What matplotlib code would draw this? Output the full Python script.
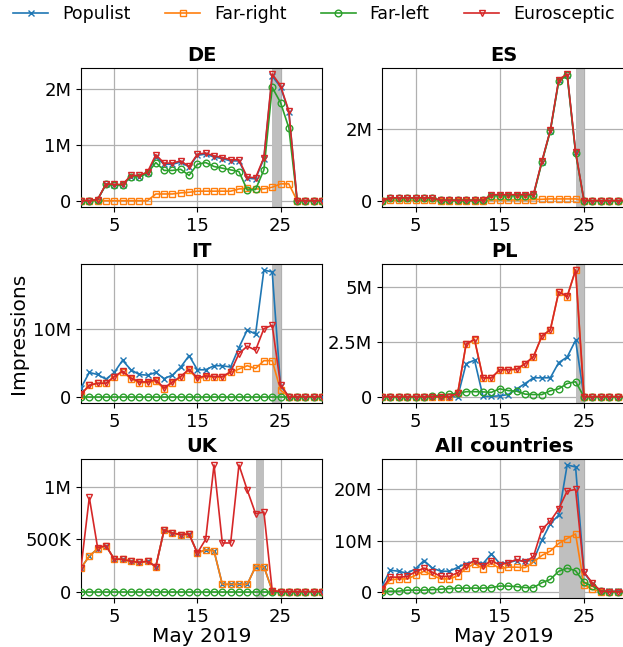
import matplotlib
matplotlib.use("Agg")
import matplotlib.pyplot as plt
from matplotlib.ticker import FuncFormatter

days = list(range(1, 31))
series_names = ["Populist", "Far-right", "Far-left", "Eurosceptic"]
colors = ["#1f77b4", "#ff7f0e", "#2ca02c", "#d62728"]
markers = ["x", "s", "o", "v"]

# values in millions of impressions, May 1..30, 2019
pop_de = [0, 0, 0.02, 0.29, 0.28, 0.28, 0.43, 0.43, 0.49, 0.78, 0.65, 0.65, 0.69, 0.60, 0.81, 0.83, 0.78, 0.75, 0.71, 0.71, 0.40, 0.39, 0.75, 2.22, 2.03, 1.58, 0, 0, 0, 0]
fr_de = [0, 0, 0, 0, 0, 0, 0, 0, 0, 0.12, 0.12, 0.12, 0.14, 0.15, 0.17, 0.17, 0.17, 0.17, 0.17, 0.21, 0.22, 0.21, 0.21, 0.24, 0.30, 0.30, 0, 0, 0, 0]
fl_de = [0, 0, 0.02, 0.29, 0.28, 0.28, 0.43, 0.43, 0.49, 0.68, 0.54, 0.54, 0.56, 0.45, 0.65, 0.68, 0.61, 0.58, 0.55, 0.52, 0.19, 0.20, 0.55, 2.02, 1.75, 1.30, 0, 0, 0, 0]
eu_de = [0, 0, 0.02, 0.30, 0.29, 0.29, 0.45, 0.45, 0.51, 0.82, 0.67, 0.67, 0.71, 0.61, 0.83, 0.85, 0.80, 0.77, 0.73, 0.73, 0.42, 0.41, 0.77, 2.26, 2.05, 1.60, 0, 0, 0, 0]

pop_es = [0, 0.07, 0.07, 0.07, 0.07, 0.07, 0.07, 0.01, 0.01, 0.01, 0.01, 0.01, 0.01, 0.15, 0.15, 0.15, 0.15, 0.15, 0.16, 1.10, 1.97, 3.38, 3.54, 1.36, 0, 0, 0, 0, 0, 0]
fr_es = [0, 0.01, 0.01, 0.01, 0.01, 0.01, 0.01, 0, 0, 0, 0, 0, 0, 0.02, 0.02, 0.02, 0.02, 0.02, 0.03, 0.04, 0.05, 0.05, 0.05, 0.05, 0, 0, 0, 0, 0, 0]
fl_es = [0, 0.07, 0.07, 0.07, 0.07, 0.07, 0.07, 0.01, 0.01, 0.01, 0.01, 0.01, 0.01, 0.14, 0.14, 0.14, 0.14, 0.14, 0.15, 1.08, 1.96, 3.36, 3.52, 1.34, 0, 0, 0, 0, 0, 0]
eu_es = [0, 0.08, 0.08, 0.08, 0.08, 0.08, 0.08, 0.01, 0.01, 0.01, 0.01, 0.01, 0.01, 0.17, 0.17, 0.17, 0.17, 0.17, 0.18, 1.11, 1.98, 3.40, 3.56, 1.38, 0, 0, 0, 0, 0, 0]

pop_it = [1.3, 3.6, 3.3, 2.6, 3.6, 5.4, 4.0, 3.3, 3.2, 3.6, 2.7, 3.2, 4.4, 6.1, 4.0, 4.0, 4.6, 4.6, 4.4, 7.3, 9.9, 9.3, 18.8, 18.5, 1.6, 0, 0, 0, 0, 0]
fr_it = [0.3, 1.7, 2.0, 2.0, 2.9, 3.7, 2.7, 2.1, 2.1, 2.3, 1.2, 2.1, 2.9, 4.0, 2.6, 3.0, 2.9, 2.9, 3.6, 4.1, 4.6, 4.2, 5.35, 5.35, 1.0, 0, 0, 0, 0, 0]
fl_it = [0] * 30
eu_it = [0.4, 1.7, 2.0, 2.0, 3.0, 3.8, 2.8, 2.2, 2.2, 2.5, 1.3, 2.2, 3.0, 4.1, 2.8, 3.1, 3.0, 3.0, 3.7, 6.4, 7.5, 6.9, 10.1, 10.6, 1.8, 0, 0, 0, 0, 0]

pop_pl = [0, 0, 0, 0, 0, 0, 0, 0, 0, 0, 1.5, 1.66, 0.02, 0.02, 0.04, 0.10, 0.35, 0.60, 0.86, 0.86, 0.86, 1.55, 1.80, 2.56, 0, 0, 0, 0, 0, 0]
fr_pl = [0, 0, 0, 0, 0, 0, 0, 0, 0, 0.15, 2.38, 2.58, 0.85, 0.85, 1.22, 1.22, 1.24, 1.49, 1.81, 2.75, 3.03, 4.75, 4.54, 5.74, 0, 0, 0, 0, 0, 0]
fl_pl = [0, 0, 0, 0, 0, 0, 0.03, 0.06, 0.12, 0.15, 0.23, 0.23, 0.22, 0.20, 0.36, 0.28, 0.25, 0.12, 0.10, 0.10, 0.27, 0.36, 0.60, 0.68, 0, 0, 0, 0, 0, 0]
eu_pl = [0, 0, 0, 0, 0, 0, 0, 0, 0, 0.15, 2.40, 2.60, 0.86, 0.86, 1.23, 1.23, 1.25, 1.50, 1.82, 2.76, 3.04, 4.76, 4.55, 5.75, 0, 0, 0, 0, 0, 0]

pop_uk = [0.226, 0.34, 0.41, 0.44, 0.31, 0.31, 0.29, 0.28, 0.29, 0.24, 0.59, 0.56, 0.545, 0.55, 0.37, 0.40, 0.39, 0.07, 0.07, 0.07, 0.07, 0.24, 0.24, 0.01, 0, 0, 0, 0, 0, 0]
fr_uk = [0.226, 0.34, 0.41, 0.44, 0.31, 0.31, 0.29, 0.28, 0.29, 0.24, 0.59, 0.56, 0.545, 0.55, 0.37, 0.40, 0.39, 0.07, 0.07, 0.07, 0.07, 0.24, 0.24, 0.01, 0, 0, 0, 0, 0, 0]
fl_uk = [0] * 30
eu_uk = [0.226, 0.90, 0.42, 0.44, 0.31, 0.31, 0.29, 0.28, 0.29, 0.24, 0.59, 0.56, 0.545, 0.55, 0.37, 0.50, 1.21, 0.465, 0.465, 1.21, 0.97, 0.745, 0.76, 0.01, 0, 0, 0, 0, 0, 0]

pop_all = [1.1, 4.2, 4.0, 3.6, 4.5, 6.1, 4.6, 4.0, 4.0, 4.75, 5.5, 5.9, 5.5, 7.4, 5.5, 5.7, 6.1, 6.0, 6.1, 10.1, 13.3, 15.0, 24.8, 24.4, 3.7, 1.5, 0.1, 0.1, 0.1, 0.1]
fr_all = [0.4, 2.3, 2.5, 2.5, 3.2, 4.0, 3.2, 2.5, 2.5, 3.1, 4.6, 5.5, 4.5, 5.6, 4.5, 4.8, 4.8, 4.7, 5.8, 7.1, 7.95, 9.45, 10.4, 11.3, 1.3, 0.45, 0, 0, 0, 0]
fl_all = [0, 0.1, 0.1, 0.3, 0.3, 0.3, 0.4, 0.5, 0.6, 0.7, 0.7, 0.7, 0.7, 0.8, 1.1, 1.1, 1.0, 0.8, 0.8, 1.76, 2.4, 4.0, 4.6, 4.1, 1.8, 1.1, 0.1, 0, 0, 0]
eu_all = [0.5, 2.9, 2.8, 3.0, 3.9, 4.6, 3.8, 3.0, 3.0, 3.7, 5.1, 6.1, 5.0, 6.1, 5.2, 5.7, 6.3, 5.8, 6.9, 12.2, 13.8, 16.2, 19.7, 20.0, 3.8, 1.7, 0.1, 0, 0, 0]

titles = ["DE", "ES", "IT", "PL", "UK", "All countries"]
data = [
    [pop_de, fr_de, fl_de, eu_de],
    [pop_es, fr_es, fl_es, eu_es],
    [pop_it, fr_it, fl_it, eu_it],
    [pop_pl, fr_pl, fl_pl, eu_pl],
    [pop_uk, fr_uk, fl_uk, eu_uk],
    [pop_all, fr_all, fl_all, eu_all],
]
spans = [(24, 25), (24, 25), (24, 25), (24, 25), (22, 23), (22, 25)]
yticks = [
    [0, 1e6, 2e6],
    [0, 2e6],
    [0, 1e7],
    [0, 2.5e6, 5e6],
    [0, 5e5, 1e6],
    [0, 1e7, 2e7],
]
xticks = [5, 15, 25]


def fmt(v, _):
    if v == 0:
        return "0"
    if abs(v) >= 1e6:
        return f"{v / 1e6:g}M"
    if abs(v) >= 1e3:
        return f"{v / 1e3:g}K"
    return f"{v:g}"


fig = plt.figure(figsize=(6.23, 6.47), dpi=100)
lefts = [0.130, 0.613]
bottoms = [0.680, 0.377, 0.0757]
h = 0.2155

handles = []
for i, title in enumerate(titles):
    r, c = divmod(i, 2)
    ax = fig.add_axes([lefts[c], bottoms[r], 0.387 if c == 0 else 0.392, h])
    ax.axvspan(spans[i][0], spans[i][1], color="#bfbfbf", lw=0, zorder=1)
    for j, name in enumerate(series_names):
        vals = [v * 1e6 for v in data[i][j]]
        ln, = ax.plot(days, vals, color=colors[j], marker=markers[j],
                      markersize=4.8, lw=1.2, mfc="none", mew=1.0,
                      label=name, zorder=3 + j)
        if i == 0:
            handles.append(ln)
    ax.set_xlim(1, 30)
    ax.set_xticks(xticks)
    ax.set_yticks(yticks[i])
    ax.yaxis.set_major_formatter(FuncFormatter(fmt))
    ax.grid(True, color="#b0b0b0", lw=0.9, zorder=0)
    ax.set_axisbelow(True)
    ax.tick_params(labelsize=13)
    ax.set_title(title, fontsize=14, fontweight="bold", pad=5)
    if i == 2:
        ax.set_ylabel("Impressions", fontsize=14.5)
    if r == 2:
        ax.set_xlabel("May 2019", fontsize=14.5, labelpad=1)

fig.legend(handles=handles, loc="upper center", bbox_to_anchor=(0.504, 1.016),
           ncol=4, frameon=False, fontsize=12.5, columnspacing=2.0,
           handlelength=2.0, handletextpad=0.8)

fig.savefig("out.png", dpi=100)
